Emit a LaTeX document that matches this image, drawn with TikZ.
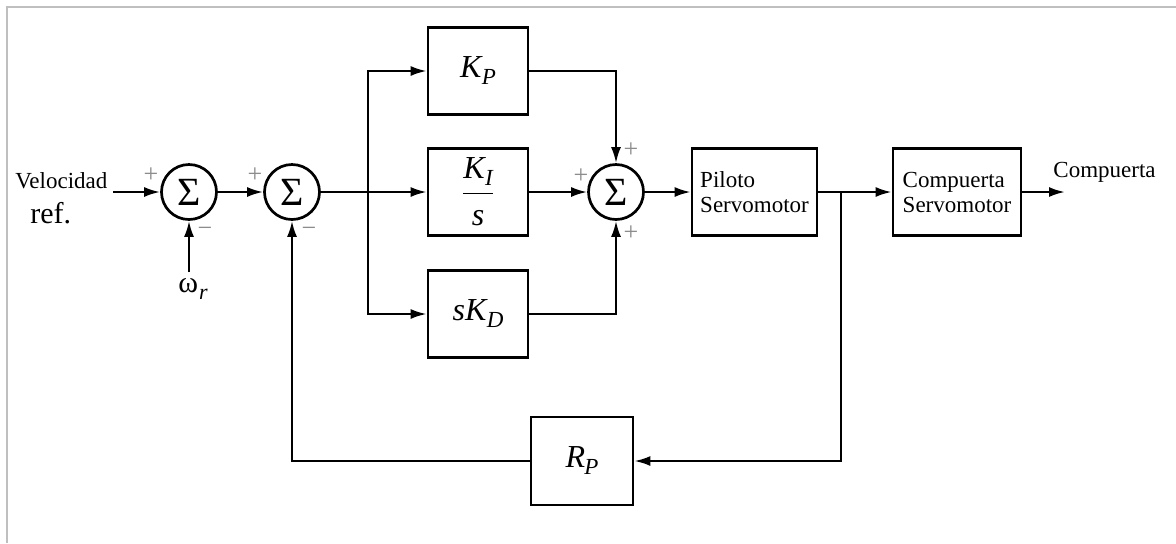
\documentclass[tikz,border=0pt]{standalone}
\usepackage{fontspec}
\setmainfont{Liberation Serif}
\usetikzlibrary{arrows.meta}
\newcommand\itsub[2]{\textit{#1}\kern-0.5pt\raisebox{-3.5pt}{\fontsize{11.5}{11.5}\selectfont\itshape #2}}
\begin{document}
\begin{tikzpicture}[x=0.5pt,y=-0.5pt,
 conn/.style={line width=1.15pt,-{Latex[length=8pt,width=5pt]}},
 blk/.style={draw,line width=1.35pt,inner sep=0pt,minimum width=50pt,minimum height=43.5pt},
 sumn/.style={draw,circle,line width=1.35pt,inner sep=0pt,minimum size=27.5pt,font=\fontsize{20}{20}\selectfont},
 sgn/.style={text=black!45,inner sep=0pt,font=\fontsize{13}{13}\selectfont},
 lbl/.style={inner sep=0pt,font=\fontsize{11.5}{12.5}\selectfont},
 mth/.style={font=\fontsize{16}{16}\selectfont}]
\useasboundingbox (0,0) rectangle (1176,543);
\draw[black!25,line width=1pt] (7,543) -- (7,7) -- (1176,7);
% summing junctions
\node[sumn] (s1) at (189,192) {Σ};
\node[sumn] (s2) at (292,192) {Σ};
\node[sumn] (s3) at (616,192) {Σ};
% blocks
\node[blk,mth] (kp) at (478,71) {\itsub{K}{P}};
\node[blk,mth] (ki) at (478,192) {$\displaystyle\frac{\mbox{\itsub{K}{I}}}{\mbox{\textit{s}}}$};
\node[blk,mth] (kd) at (478,314) {\textit{s}\itsub{K}{D}};
\node[blk,mth,minimum width=51pt,minimum height=44pt] (rp) at (582,461) {\itsub{R}{P}};
\node[blk,lbl,align=left,minimum width=62.5pt] (pil) at (754.5,192) {Piloto\\Servomotor};
\node[blk,lbl,align=left,minimum width=64pt] (cmp) at (957,192) {Compuerta\\Servomotor};
% labels
\node[lbl,anchor=base west] (vel) at (15,188) {Velocidad};
\node[inner sep=0pt,anchor=base west,font=\fontsize{15}{15}\selectfont] (ref) at (30,223) {ref.};
\node[inner sep=0pt,font=\fontsize{15}{15}\selectfont] (wr) at (193,289) {ω\kern0.5pt\raisebox{-3.5pt}{\fontsize{11}{11}\selectfont\itshape r}};
\node[lbl,anchor=base west] (out) at (1053,177) {Compuerta};
% signs
\node[sgn] (p1) at (151,175) {+};
\node[sgn] (m1) at (205,232) {−};
\node[sgn] (p2) at (255,175) {+};
\node[sgn] (m2) at (309,232) {−};
\node[sgn] (p3a) at (631,150) {+};
\node[sgn] (p3b) at (581,176) {+};
\node[sgn] (p3c) at (631,233) {+};
% coordinates
\coordinate (vin) at (113,192);
\coordinate (wtop) at (189,272);
\coordinate (br1) at (368,192);
\coordinate (br2) at (841,192);
\coordinate (yend) at (1065,192);
% connectors
\draw[conn] (vin) -- (s1.west);
\draw[conn] (wtop) -- (s1.south);
\draw[conn] (s1.east) -- (s2.west);
\draw[conn] (s2.east) -- (ki.west);
\draw[conn] (br1) |- (kp.west);
\draw[conn] (br1) |- (kd.west);
\draw[conn] (ki.east) -- (s3.west);
\draw[conn] (kp.east) -| (s3.north);
\draw[conn] (kd.east) -| (s3.south);
\draw[conn] (s3.east) -- (pil.west);
\draw[conn] (pil.east) -- (cmp.west);
\draw[conn] (cmp.east) -- (yend);
\draw[conn] (br2) |- (rp.east);
\draw[conn] (rp.west) -| (s2.south);
\end{tikzpicture}
\end{document}
